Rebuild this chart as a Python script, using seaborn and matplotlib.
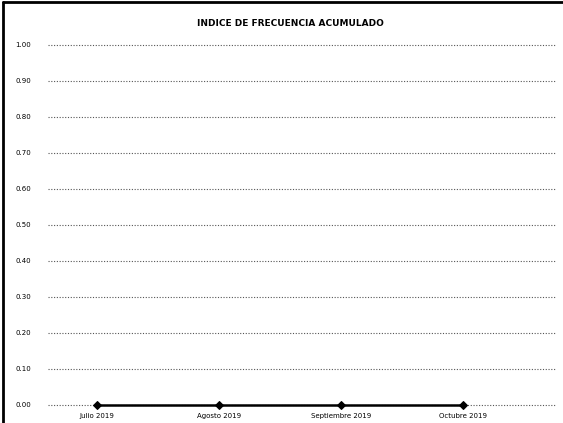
import numpy as np
import pandas as pd
import seaborn as sns
from matplotlib import pyplot as plt
from matplotlib.lines import Line2D

months = ["Julio 2019", "Agosto 2019", "Septiembre 2019", "Octubre 2019"]
indice = [0.0, 0.0, 0.0, 0.0]
yticks = [0.0, 0.1, 0.2, 0.3, 0.4, 0.5, 0.6, 0.7, 0.8, 0.9, 1.0]

sns.set_style("white")
plt.rcParams["font.family"] = ["Liberation Sans Narrow", "DejaVu Sans"]
plt.rcParams["text.color"] = "black"
plt.rcParams["xtick.color"] = "black"
plt.rcParams["ytick.color"] = "black"

df = pd.DataFrame({"mes": months, "indice": indice})

fig = plt.figure(figsize=(5.63, 4.23), dpi=100)
ax = fig.add_axes([0.085, 0.043, 0.901, 0.851])
ax.yaxis.grid(True, linestyle=(0, (1, 1.5)), color="#555555", linewidth=0.8)
ax.set_axisbelow(True)
sns.lineplot(data=df, x="mes", y="indice", color="black", marker="D",
             markersize=4, markeredgecolor="black", linewidth=1.8, ax=ax,
             sort=False, clip_on=False, zorder=5)

ax.set_ylim(0, 1.0)
ax.set_xlim(-0.4, 3.75)
ax.set_yticks(yticks)
ax.set_yticklabels([f"{v:.2f}" for v in yticks], fontsize=5)
ax.tick_params(axis="x", labelsize=5, length=0, pad=6)
ax.tick_params(axis="y", length=0, pad=12)
for gl in ax.yaxis.get_gridlines():
    gl.set_clip_on(False)
for s in ax.spines.values():
    s.set_visible(False)
ax.set_xlabel("")
ax.set_ylabel("")

fig.suptitle("INDICE DE FRECUENCIA ACUMULADO", fontsize=6.5, fontweight="bold",
             y=0.955, x=0.515)

# scanned page border
fig.add_artist(Line2D([0.005, 0.005], [0, 0.995], color="black", linewidth=2, transform=fig.transFigure))
fig.add_artist(Line2D([0.005, 1.0], [0.995, 0.995], color="black", linewidth=2, transform=fig.transFigure))

fig.savefig("out.png", dpi=100)
